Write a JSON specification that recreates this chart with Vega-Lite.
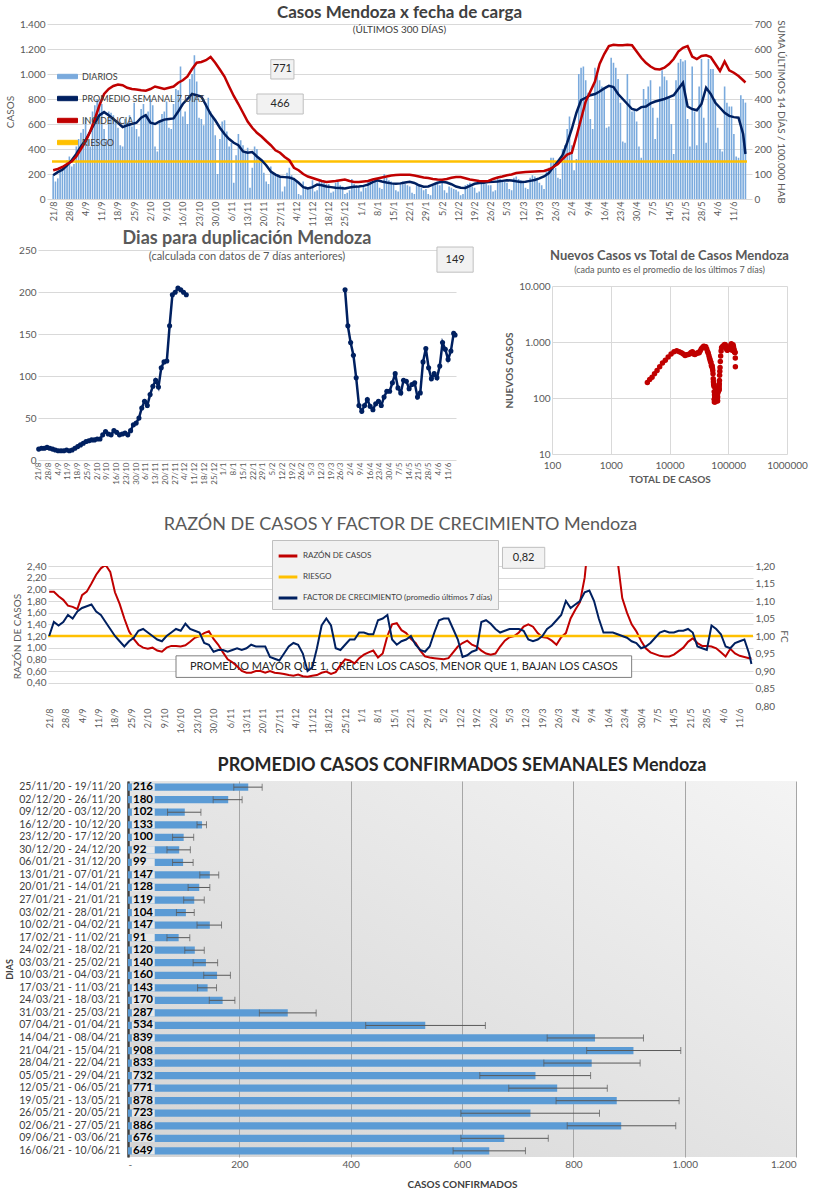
{
"$schema":"https://vega.github.io/schema/vega-lite/v6.json",
"background":"white",
"padding":{"left":4,"top":4,"right":2,"bottom":0},
"spacing":4,
"config":{
"locale":{"number":{"decimal":",","thousands":".","grouping":[3],"currency":["$",""]}},
"font":"Lato",
"axis":{"labelColor":"#595959","titleColor":"#595959","labelFont":"Lato","titleFont":"Lato","gridColor":"#d9d9d9","domain":false,"ticks":false,"labelFontSize":10,"titleFontWeight":"normal","titleFontSize":10,"labelOverlap":false},
"view":{"stroke":null},
"title":{"font":"Lato","color":"#595959","anchor":"middle"},
"legend":{"labelFont":"Lato","labelLimit":400}
},
"resolve":{"scale":{"color":"independent"},"legend":{"color":"independent"}},
"datasets":{
"daily":[
{"d":"2020-08-21","c":190},{"d":"2020-08-22","c":140},{"d":"2020-08-23","c":165},{"d":"2020-08-24","c":220},{"d":"2020-08-25","c":245},{"d":"2020-08-26","c":270},{"d":"2020-08-27","c":310},{"d":"2020-08-28","c":340},{"d":"2020-08-29","c":260},{"d":"2020-08-30","c":280},{"d":"2020-08-31","c":420},
{"d":"2020-09-01","c":480},{"d":"2020-09-02","c":530},{"d":"2020-09-03","c":560},{"d":"2020-09-04","c":650},{"d":"2020-09-05","c":480},{"d":"2020-09-06","c":420},{"d":"2020-09-07","c":700},{"d":"2020-09-08","c":750},{"d":"2020-09-09","c":800},{"d":"2020-09-10","c":780},{"d":"2020-09-11","c":760},{"d":"2020-09-12","c":560},{"d":"2020-09-13","c":480},{"d":"2020-09-14","c":700},{"d":"2020-09-15","c":690},{"d":"2020-09-16","c":670},{"d":"2020-09-17","c":620},{"d":"2020-09-18","c":570},{"d":"2020-09-19","c":430},{"d":"2020-09-20","c":420},{"d":"2020-09-21","c":640},{"d":"2020-09-22","c":610},{"d":"2020-09-23","c":670},{"d":"2020-09-24","c":580},{"d":"2020-09-25","c":770},{"d":"2020-09-26","c":560},{"d":"2020-09-27","c":500},{"d":"2020-09-28","c":720},{"d":"2020-09-29","c":760},{"d":"2020-09-30","c":660},
{"d":"2020-10-01","c":700},{"d":"2020-10-02","c":800},{"d":"2020-10-03","c":750},{"d":"2020-10-04","c":420},{"d":"2020-10-05","c":380},{"d":"2020-10-06","c":620},{"d":"2020-10-07","c":680},{"d":"2020-10-08","c":700},{"d":"2020-10-09","c":780},{"d":"2020-10-10","c":570},{"d":"2020-10-11","c":560},{"d":"2020-10-12","c":760},{"d":"2020-10-13","c":880},{"d":"2020-10-14","c":870},{"d":"2020-10-15","c":1060},{"d":"2020-10-16","c":660},{"d":"2020-10-17","c":700},{"d":"2020-10-18","c":600},{"d":"2020-10-19","c":960},{"d":"2020-10-20","c":1000},{"d":"2020-10-21","c":1150},{"d":"2020-10-22","c":940},{"d":"2020-10-23","c":650},{"d":"2020-10-24","c":640},{"d":"2020-10-25","c":590},{"d":"2020-10-26","c":770},{"d":"2020-10-27","c":810},{"d":"2020-10-28","c":700},{"d":"2020-10-29","c":650},{"d":"2020-10-30","c":510},{"d":"2020-10-31","c":200},
{"d":"2020-11-01","c":480},{"d":"2020-11-02","c":620},{"d":"2020-11-03","c":630},{"d":"2020-11-04","c":540},{"d":"2020-11-05","c":420},{"d":"2020-11-06","c":450},{"d":"2020-11-07","c":130},{"d":"2020-11-08","c":350},{"d":"2020-11-09","c":520},{"d":"2020-11-10","c":470},{"d":"2020-11-11","c":430},{"d":"2020-11-12","c":380},{"d":"2020-11-13","c":410},{"d":"2020-11-14","c":90},{"d":"2020-11-15","c":250},{"d":"2020-11-16","c":420},{"d":"2020-11-17","c":400},{"d":"2020-11-18","c":320},{"d":"2020-11-19","c":300},{"d":"2020-11-20","c":210},{"d":"2020-11-21","c":140},{"d":"2020-11-22","c":120},{"d":"2020-11-23","c":260},{"d":"2020-11-24","c":200},{"d":"2020-11-25","c":190},{"d":"2020-11-26","c":200},{"d":"2020-11-27","c":170},{"d":"2020-11-28","c":60},{"d":"2020-11-29","c":100},{"d":"2020-11-30","c":210},
{"d":"2020-12-01","c":250},{"d":"2020-12-02","c":190},{"d":"2020-12-03","c":170},{"d":"2020-12-04","c":150},{"d":"2020-12-05","c":40},{"d":"2020-12-06","c":30},{"d":"2020-12-07","c":140},{"d":"2020-12-08","c":100},{"d":"2020-12-09","c":90},{"d":"2020-12-10","c":80},{"d":"2020-12-11","c":150},{"d":"2020-12-12","c":60},{"d":"2020-12-13","c":70},{"d":"2020-12-14","c":160},{"d":"2020-12-15","c":140},{"d":"2020-12-16","c":130},{"d":"2020-12-17","c":120},{"d":"2020-12-18","c":120},{"d":"2020-12-19","c":50},{"d":"2020-12-20","c":60},{"d":"2020-12-21","c":130},{"d":"2020-12-22","c":140},{"d":"2020-12-23","c":110},{"d":"2020-12-24","c":100},{"d":"2020-12-25","c":40},{"d":"2020-12-26","c":50},{"d":"2020-12-27","c":70},{"d":"2020-12-28","c":160},{"d":"2020-12-29","c":120},{"d":"2020-12-30","c":110},{"d":"2020-12-31","c":100},
{"d":"2021-01-01","c":60},{"d":"2021-01-02","c":110},{"d":"2021-01-03","c":90},{"d":"2021-01-04","c":150},{"d":"2021-01-05","c":160},{"d":"2021-01-06","c":140},{"d":"2021-01-07","c":150},{"d":"2021-01-08","c":160},{"d":"2021-01-09","c":90},{"d":"2021-01-10","c":80},{"d":"2021-01-11","c":200},{"d":"2021-01-12","c":170},{"d":"2021-01-13","c":150},{"d":"2021-01-14","c":140},{"d":"2021-01-15","c":120},{"d":"2021-01-16","c":70},{"d":"2021-01-17","c":60},{"d":"2021-01-18","c":130},{"d":"2021-01-19","c":140},{"d":"2021-01-20","c":120},{"d":"2021-01-21","c":110},{"d":"2021-01-22","c":100},{"d":"2021-01-23","c":50},{"d":"2021-01-24","c":40},{"d":"2021-01-25","c":130},{"d":"2021-01-26","c":110},{"d":"2021-01-27","c":90},{"d":"2021-01-28","c":70},{"d":"2021-01-29","c":80},{"d":"2021-01-30","c":40},{"d":"2021-01-31","c":30},
{"d":"2021-02-01","c":110},{"d":"2021-02-02","c":130},{"d":"2021-02-03","c":120},{"d":"2021-02-04","c":110},{"d":"2021-02-05","c":130},{"d":"2021-02-06","c":70},{"d":"2021-02-07","c":50},{"d":"2021-02-08","c":100},{"d":"2021-02-09","c":90},{"d":"2021-02-10","c":80},{"d":"2021-02-11","c":75},{"d":"2021-02-12","c":60},{"d":"2021-02-13","c":30},{"d":"2021-02-14","c":40},{"d":"2021-02-15","c":110},{"d":"2021-02-16","c":120},{"d":"2021-02-17","c":130},{"d":"2021-02-18","c":100},{"d":"2021-02-19","c":90},{"d":"2021-02-20","c":50},{"d":"2021-02-21","c":60},{"d":"2021-02-22","c":140},{"d":"2021-02-23","c":130},{"d":"2021-02-24","c":120},{"d":"2021-02-25","c":110},{"d":"2021-02-26","c":110},{"d":"2021-02-27","c":60},{"d":"2021-02-28","c":70},
{"d":"2021-03-01","c":170},{"d":"2021-03-02","c":160},{"d":"2021-03-03","c":150},{"d":"2021-03-04","c":140},{"d":"2021-03-05","c":130},{"d":"2021-03-06","c":80},{"d":"2021-03-07","c":70},{"d":"2021-03-08","c":170},{"d":"2021-03-09","c":180},{"d":"2021-03-10","c":160},{"d":"2021-03-11","c":150},{"d":"2021-03-12","c":140},{"d":"2021-03-13","c":90},{"d":"2021-03-14","c":80},{"d":"2021-03-15","c":170},{"d":"2021-03-16","c":190},{"d":"2021-03-17","c":180},{"d":"2021-03-18","c":160},{"d":"2021-03-19","c":130},{"d":"2021-03-20","c":110},{"d":"2021-03-21","c":80},{"d":"2021-03-22","c":220},{"d":"2021-03-23","c":250},{"d":"2021-03-24","c":330},{"d":"2021-03-25","c":330},{"d":"2021-03-26","c":250},{"d":"2021-03-27","c":170},{"d":"2021-03-28","c":160},{"d":"2021-03-29","c":400},{"d":"2021-03-30","c":430},{"d":"2021-03-31","c":560},
{"d":"2021-04-01","c":660},{"d":"2021-04-02","c":430},{"d":"2021-04-03","c":230},{"d":"2021-04-04","c":320},{"d":"2021-04-05","c":1000},{"d":"2021-04-06","c":1050},{"d":"2021-04-07","c":1060},{"d":"2021-04-08","c":950},{"d":"2021-04-09","c":850},{"d":"2021-04-10","c":640},{"d":"2021-04-11","c":560},{"d":"2021-04-12","c":1050},{"d":"2021-04-13","c":1000},{"d":"2021-04-14","c":950},{"d":"2021-04-15","c":900},{"d":"2021-04-16","c":880},{"d":"2021-04-17","c":570},{"d":"2021-04-18","c":580},{"d":"2021-04-19","c":1130},{"d":"2021-04-20","c":1090},{"d":"2021-04-21","c":1050},{"d":"2021-04-22","c":960},{"d":"2021-04-23","c":770},{"d":"2021-04-24","c":460},{"d":"2021-04-25","c":450},{"d":"2021-04-26","c":1000},{"d":"2021-04-27","c":800},{"d":"2021-04-28","c":700},{"d":"2021-04-29","c":720},{"d":"2021-04-30","c":620},
{"d":"2021-05-01","c":420},{"d":"2021-05-02","c":330},{"d":"2021-05-03","c":880},{"d":"2021-05-04","c":800},{"d":"2021-05-05","c":900},{"d":"2021-05-06","c":950},{"d":"2021-05-07","c":730},{"d":"2021-05-08","c":480},{"d":"2021-05-09","c":650},{"d":"2021-05-10","c":900},{"d":"2021-05-11","c":1030},{"d":"2021-05-12","c":980},{"d":"2021-05-13","c":950},{"d":"2021-05-14","c":810},{"d":"2021-05-15","c":600},{"d":"2021-05-16","c":360},{"d":"2021-05-17","c":950},{"d":"2021-05-18","c":1090},{"d":"2021-05-19","c":1120},{"d":"2021-05-20","c":1100},{"d":"2021-05-21","c":1110},{"d":"2021-05-22","c":640},{"d":"2021-05-23","c":420},{"d":"2021-05-24","c":1060},{"d":"2021-05-25","c":700},{"d":"2021-05-26","c":430},{"d":"2021-05-27","c":900},{"d":"2021-05-28","c":1120},{"d":"2021-05-29","c":650},{"d":"2021-05-30","c":450},{"d":"2021-05-31","c":1120},
{"d":"2021-06-01","c":1040},{"d":"2021-06-02","c":1040},{"d":"2021-06-03","c":800},{"d":"2021-06-04","c":570},{"d":"2021-06-05","c":400},{"d":"2021-06-06","c":380},{"d":"2021-06-07","c":900},{"d":"2021-06-08","c":770},{"d":"2021-06-09","c":740},{"d":"2021-06-10","c":740},{"d":"2021-06-11","c":520},{"d":"2021-06-12","c":340},{"d":"2021-06-13","c":330},{"d":"2021-06-14","c":830},{"d":"2021-06-15","c":800},{"d":"2021-06-16","c":771}
],
"ser":[
{"d":"2020-08-21","p":190,"i":115,"u":13,"r":1.96,"f":1.0,"t":4200},
{"d":"2020-08-23","p":215,"i":120,"u":14,"r":1.96,"f":1.04,"t":4600},
{"d":"2020-08-25","p":235,"i":128,"u":14,"r":1.88,"f":1.03,"t":5050},
{"d":"2020-08-27","p":270,"i":140,"u":15,"r":1.82,"f":1.04,"t":5560},
{"d":"2020-08-29","p":310,"i":150,"u":14,"r":1.72,"f":1.06,"t":6140},
{"d":"2020-08-31","p":360,"i":170,"u":13,"r":1.7,"f":1.05,"t":6810},
{"d":"2020-09-02","p":420,"i":200,"u":12,"r":1.66,"f":1.07,"t":7590},
{"d":"2020-09-04","p":470,"i":230,"u":11,"r":1.9,"f":1.08,"t":8480},
{"d":"2020-09-06","p":540,"i":270,"u":11,"r":1.96,"f":1.085,"t":9490},
{"d":"2020-09-08","p":610,"i":320,"u":11,"r":2.1,"f":1.09,"t":10640},
{"d":"2020-09-10","p":670,"i":375,"u":12,"r":2.25,"f":1.07,"t":11920},
{"d":"2020-09-12","p":695,"i":420,"u":11,"r":2.36,"f":1.06,"t":13285},
{"d":"2020-09-14","p":670,"i":440,"u":12,"r":2.42,"f":1.04,"t":14650},
{"d":"2020-09-16","p":640,"i":452,"u":14,"r":2.3,"f":1.02,"t":15960},
{"d":"2020-09-18","p":610,"i":458,"u":16,"r":1.95,"f":1.0,"t":17210},
{"d":"2020-09-20","p":575,"i":455,"u":18,"r":1.75,"f":0.985,"t":18395},
{"d":"2020-09-22","p":590,"i":445,"u":20,"r":1.5,"f":0.97,"t":19560},
{"d":"2020-09-24","p":600,"i":440,"u":22,"r":1.28,"f":0.985,"t":20750},
{"d":"2020-09-26","p":610,"i":438,"u":23,"r":1.15,"f":0.995,"t":21960},
{"d":"2020-09-28","p":650,"i":435,"u":24,"r":1.05,"f":1.015,"t":23220},
{"d":"2020-09-30","p":670,"i":433,"u":24,"r":1.0,"f":1.02,"t":24540},
{"d":"2020-10-02","p":610,"i":440,"u":25,"r":0.98,"f":1.01,"t":25820},
{"d":"2020-10-04","p":600,"i":450,"u":25,"r":1.0,"f":1.0,"t":27030},
{"d":"2020-10-06","p":620,"i":445,"u":30,"r":0.95,"f":0.99,"t":28250},
{"d":"2020-10-08","p":635,"i":440,"u":34,"r":0.93,"f":0.985,"t":29505},
{"d":"2020-10-10","p":640,"i":445,"u":31,"r":1.0,"f":1.0,"t":30780},
{"d":"2020-10-12","p":645,"i":450,"u":30,"r":1.03,"f":1.01,"t":32065},
{"d":"2020-10-14","p":700,"i":465,"u":35,"r":1.03,"f":1.02,"t":33410},
{"d":"2020-10-16","p":760,"i":475,"u":33,"r":1.02,"f":1.015,"t":34870},
{"d":"2020-10-18","p":800,"i":490,"u":30,"r":1.04,"f":1.035,"t":36430},
{"d":"2020-10-20","p":840,"i":520,"u":31,"r":1.1,"f":1.02,"t":38070},
{"d":"2020-10-22","p":830,"i":545,"u":32,"r":1.17,"f":1.015,"t":39740},
{"d":"2020-10-24","p":820,"i":548,"u":30,"r":1.2,"f":1.01,"t":41390},
{"d":"2020-10-26","p":750,"i":555,"u":35,"r":1.25,"f":0.98,"t":42960},
{"d":"2020-10-28","p":680,"i":568,"u":42,"r":1.28,"f":0.975,"t":44390},
{"d":"2020-10-30","p":630,"i":545,"u":44,"r":1.15,"f":0.955,"t":45700},
{"d":"2020-11-01","p":570,"i":518,"u":50,"r":1.05,"f":0.96,"t":46900},
{"d":"2020-11-03","p":520,"i":490,"u":62,"r":0.92,"f":0.96,"t":47990},
{"d":"2020-11-05","p":480,"i":450,"u":70,"r":0.8,"f":0.955,"t":48990},
{"d":"2020-11-07","p":450,"i":412,"u":65,"r":0.75,"f":0.96,"t":49920},
{"d":"2020-11-09","p":430,"i":380,"u":78,"r":0.68,"f":0.965,"t":50800},
{"d":"2020-11-11","p":380,"i":345,"u":88,"r":0.6,"f":0.96,"t":51610},
{"d":"2020-11-13","p":370,"i":310,"u":95,"r":0.57,"f":0.965,"t":52360},
{"d":"2020-11-15","p":375,"i":285,"u":87,"r":0.57,"f":0.975,"t":53105},
{"d":"2020-11-17","p":340,"i":265,"u":110,"r":0.6,"f":0.97,"t":53820},
{"d":"2020-11-19","p":310,"i":250,"u":117,"r":0.6,"f":0.97,"t":54470},
{"d":"2020-11-21","p":270,"i":232,"u":118,"r":0.57,"f":0.97,"t":55050},
{"d":"2020-11-23","p":220,"i":215,"u":160,"r":0.6,"f":0.94,"t":55540},
{"d":"2020-11-25","p":195,"i":195,"u":197,"r":0.57,"f":0.935,"t":55955},
{"d":"2020-11-27","p":178,"i":185,"u":200,"r":0.56,"f":0.93,"t":56330},
{"d":"2020-11-29","p":175,"i":168,"u":205,"r":0.55,"f":0.95,"t":56680},
{"d":"2020-12-01","p":172,"i":155,"u":203,"r":0.53,"f":0.97,"t":57030},
{"d":"2020-12-03","p":160,"i":125,"u":200,"r":0.52,"f":0.98,"t":57360},
{"d":"2020-12-05","p":130,"i":115,"u":197,"r":0.54,"f":0.975,"t":57650},
{"d":"2020-12-07","p":95,"i":100,"u":null,"r":0.51,"f":0.95,"t":57875},
{"d":"2020-12-09","p":85,"i":90,"u":null,"r":0.5,"f":0.9,"t":58055},
{"d":"2020-12-11","p":95,"i":84,"u":null,"r":0.52,"f":0.91,"t":58235},
{"d":"2020-12-13","p":115,"i":78,"u":null,"r":0.53,"f":0.965,"t":58445},
{"d":"2020-12-15","p":110,"i":72,"u":null,"r":0.57,"f":1.03,"t":58670},
{"d":"2020-12-17","p":100,"i":68,"u":null,"r":0.59,"f":1.05,"t":58880},
{"d":"2020-12-19","p":95,"i":70,"u":null,"r":0.55,"f":1.03,"t":59075},
{"d":"2020-12-21","p":90,"i":72,"u":null,"r":0.58,"f":0.965,"t":59260},
{"d":"2020-12-23","p":88,"i":75,"u":null,"r":0.7,"f":0.96,"t":59440},
{"d":"2020-12-25","p":85,"i":78,"u":null,"r":0.8,"f":0.975,"t":59610},
{"d":"2020-12-27","p":92,"i":72,"u":null,"r":0.78,"f":0.99,"t":59790},
{"d":"2020-12-29","p":98,"i":68,"u":null,"r":0.73,"f":0.99,"t":59980},
{"d":"2020-12-31","p":100,"i":68,"u":null,"r":0.82,"f":1.01,"t":60180},
{"d":"2021-01-02","p":105,"i":70,"u":null,"r":0.88,"f":1.01,"t":60385},
{"d":"2021-01-04","p":115,"i":72,"u":null,"r":0.92,"f":1.005,"t":60605},
{"d":"2021-01-06","p":135,"i":78,"u":null,"r":0.95,"f":1.005,"t":60855},
{"d":"2021-01-08","p":150,"i":82,"u":null,"r":0.83,"f":1.045,"t":61140},
{"d":"2021-01-10","p":140,"i":86,"u":null,"r":0.9,"f":1.05,"t":61430},
{"d":"2021-01-12","p":132,"i":90,"u":null,"r":1.2,"f":1.06,"t":61700},
{"d":"2021-01-14","p":125,"i":94,"u":null,"r":1.4,"f":0.99,"t":61960},
{"d":"2021-01-16","p":122,"i":96,"u":null,"r":1.42,"f":0.975,"t":62205},
{"d":"2021-01-18","p":125,"i":97,"u":null,"r":1.3,"f":0.985,"t":62450},
{"d":"2021-01-20","p":132,"i":97,"u":null,"r":1.25,"f":0.99,"t":62710},
{"d":"2021-01-22","p":137,"i":97,"u":null,"r":1.15,"f":1.0,"t":62980},
{"d":"2021-01-24","p":128,"i":94,"u":null,"r":1.08,"f":0.975,"t":63245},
{"d":"2021-01-26","p":110,"i":90,"u":null,"r":0.95,"f":0.96,"t":63480},
{"d":"2021-01-28","p":98,"i":86,"u":null,"r":0.85,"f":0.955,"t":63690},
{"d":"2021-01-30","p":100,"i":84,"u":null,"r":0.83,"f":0.97,"t":63890},
{"d":"2021-02-01","p":115,"i":80,"u":null,"r":0.82,"f":1.01,"t":64100},
{"d":"2021-02-03","p":130,"i":78,"u":null,"r":0.81,"f":1.045,"t":64345},
{"d":"2021-02-05","p":137,"i":77,"u":null,"r":0.8,"f":1.05,"t":64610},
{"d":"2021-02-07","p":132,"i":80,"u":null,"r":0.82,"f":1.05,"t":64880},
{"d":"2021-02-09","p":118,"i":85,"u":null,"r":0.92,"f":1.02,"t":65130},
{"d":"2021-02-11","p":100,"i":88,"u":null,"r":1.02,"f":0.99,"t":65350},
{"d":"2021-02-13","p":90,"i":88,"u":null,"r":1.08,"f":0.94,"t":65540},
{"d":"2021-02-15","p":88,"i":83,"u":null,"r":1.12,"f":0.945,"t":65715},
{"d":"2021-02-17","p":105,"i":78,"u":null,"r":1.05,"f":0.955,"t":65910},
{"d":"2021-02-19","p":122,"i":75,"u":null,"r":1.02,"f":0.96,"t":66135},
{"d":"2021-02-21","p":128,"i":72,"u":null,"r":0.95,"f":1.04,"t":66385},
{"d":"2021-02-23","p":130,"i":71,"u":null,"r":0.9,"f":1.045,"t":66645},
{"d":"2021-02-25","p":135,"i":72,"u":null,"r":0.88,"f":1.035,"t":66910},
{"d":"2021-02-27","p":137,"i":80,"u":null,"r":0.9,"f":1.02,"t":67180},
{"d":"2021-03-01","p":140,"i":86,"u":null,"r":1.02,"f":1.01,"t":67460},
{"d":"2021-03-03","p":145,"i":90,"u":null,"r":1.12,"f":1.015,"t":67745},
{"d":"2021-03-05","p":150,"i":95,"u":null,"r":1.18,"f":1.02,"t":68040},
{"d":"2021-03-07","p":148,"i":98,"u":null,"r":1.2,"f":1.02,"t":68340},
{"d":"2021-03-09","p":142,"i":104,"u":null,"r":1.26,"f":1.02,"t":68630},
{"d":"2021-03-11","p":137,"i":106,"u":null,"r":1.36,"f":1.015,"t":68910},
{"d":"2021-03-13","p":138,"i":108,"u":null,"r":1.4,"f":0.99,"t":69185},
{"d":"2021-03-15","p":145,"i":109,"u":null,"r":1.36,"f":0.985,"t":69470},
{"d":"2021-03-17","p":152,"i":110,"u":null,"r":1.25,"f":0.99,"t":69765},
{"d":"2021-03-19","p":165,"i":111,"u":null,"r":1.18,"f":1.0,"t":70080},
{"d":"2021-03-21","p":180,"i":112,"u":null,"r":1.17,"f":1.02,"t":70425},
{"d":"2021-03-23","p":205,"i":118,"u":null,"r":1.12,"f":1.03,"t":70810},
{"d":"2021-03-25","p":255,"i":128,"u":null,"r":1.05,"f":1.045,"t":71270},
{"d":"2021-03-27","p":300,"i":140,"u":null,"r":1.18,"f":1.06,"t":71825},
{"d":"2021-03-29","p":350,"i":160,"u":203,"r":1.25,"f":1.1,"t":72475},
{"d":"2021-03-31","p":450,"i":178,"u":160,"r":1.5,"f":1.08,"t":73275},
{"d":"2021-04-02","p":560,"i":185,"u":140,"r":1.65,"f":1.09,"t":74285},
{"d":"2021-04-04","p":690,"i":250,"u":125,"r":1.78,"f":1.1,"t":75535},
{"d":"2021-04-06","p":790,"i":320,"u":98,"r":2.2,"f":1.125,"t":77015},
{"d":"2021-04-08","p":810,"i":390,"u":65,"r":3.0,"f":1.13,"t":78615},
{"d":"2021-04-10","p":830,"i":430,"u":58,"r":3.5,"f":1.1,"t":80255},
{"d":"2021-04-12","p":840,"i":470,"u":65,"r":3.5,"f":1.05,"t":81925},
{"d":"2021-04-14","p":860,"i":540,"u":72,"r":3.5,"f":1.01,"t":83625},
{"d":"2021-04-16","p":885,"i":580,"u":64,"r":3.5,"f":1.01,"t":85370},
{"d":"2021-04-18","p":905,"i":612,"u":60,"r":3.2,"f":1.01,"t":87160},
{"d":"2021-04-20","p":895,"i":617,"u":67,"r":2.5,"f":1.005,"t":88960},
{"d":"2021-04-22","p":840,"i":615,"u":70,"r":1.85,"f":1.0,"t":90695},
{"d":"2021-04-24","p":800,"i":615,"u":65,"r":1.6,"f":0.995,"t":92335},
{"d":"2021-04-26","p":760,"i":617,"u":75,"r":1.4,"f":0.985,"t":93895},
{"d":"2021-04-28","p":720,"i":615,"u":82,"r":1.28,"f":0.98,"t":95375},
{"d":"2021-04-30","p":710,"i":590,"u":82,"r":1.12,"f":0.965,"t":96805},
{"d":"2021-05-02","p":735,"i":565,"u":92,"r":0.99,"f":0.97,"t":98250},
{"d":"2021-05-04","p":740,"i":545,"u":103,"r":0.92,"f":0.98,"t":99725},
{"d":"2021-05-06","p":765,"i":530,"u":86,"r":0.89,"f":0.995,"t":101230},
{"d":"2021-05-08","p":780,"i":520,"u":80,"r":0.86,"f":1.01,"t":102775},
{"d":"2021-05-10","p":790,"i":518,"u":95,"r":0.85,"f":1.015,"t":104345},
{"d":"2021-05-12","p":800,"i":525,"u":94,"r":0.85,"f":1.01,"t":105935},
{"d":"2021-05-14","p":815,"i":540,"u":85,"r":0.88,"f":1.01,"t":107550},
{"d":"2021-05-16","p":830,"i":560,"u":90,"r":0.94,"f":1.015,"t":109195},
{"d":"2021-05-18","p":880,"i":590,"u":92,"r":1.0,"f":1.015,"t":110905},
{"d":"2021-05-20","p":930,"i":605,"u":75,"r":1.1,"f":1.02,"t":112715},
{"d":"2021-05-22","p":740,"i":612,"u":80,"r":1.16,"f":1.01,"t":114385},
{"d":"2021-05-24","p":720,"i":570,"u":117,"r":1.08,"f":0.97,"t":115845},
{"d":"2021-05-26","p":710,"i":560,"u":133,"r":1.03,"f":0.965,"t":117275},
{"d":"2021-05-28","p":760,"i":572,"u":110,"r":1.03,"f":0.96,"t":118745},
{"d":"2021-05-30","p":890,"i":575,"u":97,"r":1.02,"f":1.03,"t":120395},
{"d":"2021-06-01","p":840,"i":568,"u":103,"r":0.99,"f":1.02,"t":122125},
{"d":"2021-06-03","p":770,"i":540,"u":98,"r":0.92,"f":1.005,"t":123735},
{"d":"2021-06-05","p":730,"i":512,"u":112,"r":0.85,"f":0.97,"t":125235},
{"d":"2021-06-07","p":690,"i":550,"u":140,"r":0.98,"f":0.965,"t":126655},
{"d":"2021-06-09","p":665,"i":515,"u":132,"r":0.9,"f":0.98,"t":128010},
{"d":"2021-06-11","p":655,"i":505,"u":120,"r":0.86,"f":0.985,"t":129330},
{"d":"2021-06-13","p":650,"i":492,"u":130,"r":0.84,"f":0.99,"t":130635},
{"d":"2021-06-15","p":520,"i":475,"u":151,"r":0.82,"f":0.95,"t":131805},
{"d":"2021-06-16","p":360,"i":466,"u":149,"r":0.82,"f":0.92,"t":132245}
],
"sem":[
{"w":"25/11/20 - 19/11/20","v":216,"lo":190,"hi":241},
{"w":"02/12/20 - 26/11/20","v":180,"lo":153,"hi":205},
{"w":"09/12/20 - 03/12/20","v":102,"lo":71,"hi":131},
{"w":"16/12/20 - 10/12/20","v":133,"lo":124,"hi":141},
{"w":"23/12/20 - 17/12/20","v":100,"lo":80,"hi":118},
{"w":"30/12/20 - 24/12/20","v":92,"lo":70,"hi":112},
{"w":"06/01/21 - 31/12/20","v":99,"lo":80,"hi":117},
{"w":"13/01/21 - 07/01/21","v":147,"lo":129,"hi":163},
{"w":"20/01/21 - 14/01/21","v":128,"lo":108,"hi":147},
{"w":"27/01/21 - 21/01/21","v":119,"lo":100,"hi":137},
{"w":"03/02/21 - 28/01/21","v":104,"lo":87,"hi":119},
{"w":"10/02/21 - 04/02/21","v":147,"lo":124,"hi":168},
{"w":"17/02/21 - 11/02/21","v":91,"lo":70,"hi":111},
{"w":"24/02/21 - 18/02/21","v":120,"lo":102,"hi":137},
{"w":"03/03/21 - 25/02/21","v":140,"lo":117,"hi":161},
{"w":"10/03/21 - 04/03/21","v":160,"lo":136,"hi":184},
{"w":"17/03/21 - 11/03/21","v":143,"lo":125,"hi":159},
{"w":"24/03/21 - 18/03/21","v":170,"lo":146,"hi":192},
{"w":"31/03/21 - 25/03/21","v":287,"lo":236,"hi":338},
{"w":"07/04/21 - 01/04/21","v":534,"lo":427,"hi":642},
{"w":"14/04/21 - 08/04/21","v":839,"lo":753,"hi":926},
{"w":"21/04/21 - 15/04/21","v":908,"lo":824,"hi":993},
{"w":"28/04/21 - 22/04/21","v":833,"lo":747,"hi":920},
{"w":"05/05/21 - 29/04/21","v":732,"lo":632,"hi":831},
{"w":"12/05/21 - 06/05/21","v":771,"lo":684,"hi":861},
{"w":"19/05/21 - 13/05/21","v":878,"lo":769,"hi":990},
{"w":"26/05/21 - 20/05/21","v":723,"lo":598,"hi":847},
{"w":"02/06/21 - 27/05/21","v":886,"lo":789,"hi":984},
{"w":"09/06/21 - 03/06/21","v":676,"lo":598,"hi":755},
{"w":"16/06/21 - 10/06/21","v":649,"lo":584,"hi":714}
]
},
"vconcat":[
{"spacing":0,"resolve":{"scale":{"color":"independent"},"legend":{"color":"independent"}},"hconcat":[
{"width":1,"height":1,"data":{"values":[]},"mark":"point","encoding":{}},
{
"title":{"text":"Casos Mendoza x fecha de carga","subtitle":"(ÚLTIMOS 300 DÍAS)","fontSize":17,"fontWeight":"bold","subtitleFontSize":10,"subtitleColor":"#404040","color":"#404040","offset":-18},
"width":705,"height":175,
"layer":[
{"layer":[
{"data":{"name":"daily"},"mark":{"type":"bar","width":1.6},
"encoding":{
"x":{"field":"d","type":"temporal","scale":{"type":"utc","nice":false,"domain":[{"year":2020,"month":8,"date":20,"hours":12,"utc":true},{"year":2021,"month":6,"date":16,"hours":16,"utc":true}]},"axis":{"title":null,"labelExpr":"utcFormat(datum.value, '%-d/%-m')","labelAngle":-90,"labelFontSize":9,"labelOverlap":false,"grid":false,"tickCount":60,"values":[1597968000000,1598572800000,1599177600000,1599782400000,1600387200000,1600992000000,1601596800000,1602201600000,1602806400000,1603411200000,1604016000000,1604620800000,1605225600000,1605830400000,1606435200000,1607040000000,1607644800000,1608249600000,1608854400000,1609459200000,1610064000000,1610668800000,1611273600000,1611878400000,1612483200000,1613088000000,1613692800000,1614297600000,1614902400000,1615507200000,1616112000000,1616716800000,1617321600000,1617926400000,1618531200000,1619136000000,1619740800000,1620345600000,1620950400000,1621555200000,1622160000000,1622764800000,1623369600000]}},
"y":{"field":"c","type":"quantitative","title":"CASOS","scale":{"domain":[0,1400]},"axis":{"values":[0,200,400,600,800,1000,1200,1400],"tickCount":40,"grid":true,"labelOverlap":false}},
"color":{"datum":"DIARIOS","type":"nominal","scale":{"domain":["DIARIOS","PROMEDIO SEMANAL 7 DÍAS","INCIDENCIA","RIESGO"],"range":["#7aaadd","#002060","#c00000","#ffc000"]},"legend":{"title":null,"orient":"none","legendX":10,"legendY":42,"symbolType":"M-1,-0.22L1,-0.22L1,0.22L-1,0.22Z","symbolSize":400,"symbolStrokeWidth":1,"labelFontSize":9,"labelColor":"#404040","rowPadding":6}}}},
{"data":{"values":[{}]},"mark":{"type":"rule","strokeWidth":2.5},"encoding":{"x":{"datum":{"year":2020,"month":8,"date":20,"hours":12,"utc":true},"type":"temporal","axis":{"labelOverlap":false}},"x2":{"datum":{"year":2021,"month":6,"date":16,"hours":16,"utc":true}},"y":{"datum":300,"type":"quantitative","title":"CASOS","axis":{"labelOverlap":false}},"color":{"datum":"RIESGO","type":"nominal"}}},
{"data":{"name":"ser"},"mark":{"type":"line","strokeWidth":2.5},
"encoding":{"x":{"field":"d","type":"temporal","axis":{"labelOverlap":false}},"y":{"field":"p","type":"quantitative","title":"CASOS","axis":{"labelOverlap":false}},"color":{"datum":"PROMEDIO SEMANAL 7 DÍAS","type":"nominal"}}},
{"data":{"values":[{}]},"mark":{"type":"rect","fill":"#f2f2f2","stroke":"#bfbfbf"},"encoding":{"x":{"datum":{"year":2020,"month":11,"date":23,"utc":true},"type":"temporal","axis":{"labelOverlap":false}},"x2":{"datum":{"year":2020,"month":12,"date":3,"utc":true}},"y":{"datum":960,"type":"quantitative","title":"CASOS","axis":{"labelOverlap":false}},"y2":{"datum":1115}}},
{"data":{"values":[{}]},"mark":{"type":"text","fontSize":11,"color":"#262626"},"encoding":{"x":{"datum":{"year":2020,"month":11,"date":28,"utc":true},"type":"temporal","axis":{"labelOverlap":false}},"y":{"datum":1037,"type":"quantitative","title":"CASOS","axis":{"labelOverlap":false}},"text":{"datum":"771"}}},
{"data":{"values":[{}]},"mark":{"type":"rect","fill":"#f2f2f2","stroke":"#bfbfbf"},"encoding":{"x":{"datum":{"year":2020,"month":11,"date":17,"utc":true},"type":"temporal","axis":{"labelOverlap":false}},"x2":{"datum":{"year":2020,"month":12,"date":7,"utc":true}},"y":{"datum":680,"type":"quantitative","title":"CASOS","axis":{"labelOverlap":false}},"y2":{"datum":840}}},
{"data":{"values":[{}]},"mark":{"type":"text","fontSize":11,"color":"#262626"},"encoding":{"x":{"datum":{"year":2020,"month":11,"date":27,"utc":true},"type":"temporal","axis":{"labelOverlap":false}},"y":{"datum":760,"type":"quantitative","title":"CASOS","axis":{"labelOverlap":false}},"text":{"datum":"466"}}}
]},
{"data":{"name":"ser"},"mark":{"type":"line","strokeWidth":2.5},
"encoding":{"x":{"field":"d","type":"temporal","axis":{"labelOverlap":false}},"y":{"field":"i","type":"quantitative","title":"SUMA  ÚLTIMOS 14 DÍAS / 100.000 HAB","scale":{"domain":[0,700]},"axis":{"orient":"right","values":[0,100,200,300,400,500,600,700],"tickCount":40,"grid":false,"labelOverlap":false}},"color":{"datum":"INCIDENCIA","type":"nominal"}}}
],
"resolve":{"scale":{"y":"independent"}}
}
]},
{"spacing":0,"hconcat":[
{"width":14,"height":1,"data":{"values":[]},"mark":"point","encoding":{}},
{"spacing":30,"hconcat":[
{
"title":{"text":"Dias para duplicación Mendoza","subtitle":"(calculada con datos de 7 días anteriores)","fontSize":18,"fontWeight":"bold","subtitleFontSize":11,"subtitleColor":"#595959","offset":-20},
"width":418,"height":218,
"layer":[
{"data":{"name":"ser"},"mark":{"type":"line","color":"#002060","strokeWidth":2.5,"invalid":"break-paths-show-domains","point":{"filled":true,"size":26,"color":"#002060"}},
"encoding":{
"x":{"field":"d","type":"temporal","scale":{"type":"utc","nice":false,"domain":[{"year":2020,"month":8,"date":20,"hours":12,"utc":true},{"year":2021,"month":6,"date":16,"hours":16,"utc":true}]},"axis":{"title":null,"format":"%-d/%-m","labelAngle":-90,"labelFontSize":8,"labelOverlap":false,"grid":false,"tickCount":60,"values":[1597968000000,1598572800000,1599177600000,1599782400000,1600387200000,1600992000000,1601596800000,1602201600000,1602806400000,1603411200000,1604016000000,1604620800000,1605225600000,1605830400000,1606435200000,1607040000000,1607644800000,1608249600000,1608854400000,1609459200000,1610064000000,1610668800000,1611273600000,1611878400000,1612483200000,1613088000000,1613692800000,1614297600000,1614902400000,1615507200000,1616112000000,1616716800000,1617321600000,1617926400000,1618531200000,1619136000000,1619740800000,1620345600000,1620950400000,1621555200000,1622160000000,1622764800000,1623369600000]}},
"y":{"field":"u","type":"quantitative","title":null,"scale":{"domain":[0,250]},"axis":{"values":[0,50,100,150,200,250],"tickCount":40,"grid":true,"labelOverlap":false}}}},
{"data":{"values":[{}]},"mark":{"type":"rect","fill":"#f2f2f2","stroke":"#bfbfbf"},"encoding":{"x":{"datum":{"year":2021,"month":6,"date":3,"utc":true},"type":"temporal","axis":{"title":null,"format":"%-d/%-m","labelAngle":-90,"labelFontSize":8,"labelOverlap":false,"grid":false}},"x2":{"datum":{"year":2021,"month":6,"date":29,"utc":true}},"y":{"datum":224,"type":"quantitative","title":null,"axis":{"labelOverlap":false}},"y2":{"datum":254}}},
{"data":{"values":[{}]},"mark":{"type":"text","fontSize":11,"color":"#262626"},"encoding":{"x":{"datum":{"year":2021,"month":6,"date":16,"utc":true},"type":"temporal","axis":{"title":null,"format":"%-d/%-m","labelAngle":-90,"labelFontSize":8,"labelOverlap":false,"grid":false}},"y":{"datum":239,"type":"quantitative","title":null,"axis":{"labelOverlap":false}},"text":{"datum":"149"}}}
]
},
{"spacing":4,"vconcat":[
{"width":1,"height":4,"data":{"values":[]},"mark":"point","encoding":{}},
{
"title":{"text":"Nuevos Casos vs Total de Casos Mendoza","subtitle":"(cada punto es el promedio de los últimos 7 días)","fontSize":13,"fontWeight":"bold","subtitleFontSize":9,"subtitleColor":"#595959","offset":6},
"width":235,"height":168,
"data":{"name":"ser"},
"mark":{"type":"circle","color":"#c00000","size":30,"opacity":1},
"encoding":{
"x":{"field":"t","type":"quantitative","title":"TOTAL DE CASOS","scale":{"type":"log","domain":[100,1000000]},"axis":{"format":"d","values":[100,1000,10000,100000,1000000],"grid":true,"titleFontWeight":"bold","titleFontSize":10,"labelPadding":6,"labelOverlap":false,"labelFlush":false}},
"y":{"field":"p","type":"quantitative","title":"NUEVOS CASOS","scale":{"type":"log","domain":[10,10000]},"axis":{"format":",.0f","values":[10,100,1000,10000],"grid":true,"titleFontWeight":"bold","titleFontSize":10,"labelOverlap":false}}}
}
]}
]}
]},
{"spacing":0,"resolve":{"scale":{"color":"independent"},"legend":{"color":"independent"}},"hconcat":[
{"width":8,"height":1,"data":{"values":[]},"mark":"point","encoding":{}},
{"spacing":4,"resolve":{"scale":{"color":"independent"},"legend":{"color":"independent"}},"vconcat":[
{"width":1,"height":22,"data":{"values":[]},"mark":"point","encoding":{}},
{
"title":{"text":"RAZÓN DE CASOS Y FACTOR DE CRECIMIENTO Mendoza","fontSize":18,"fontWeight":"normal","color":"#595959","offset":6},
"width":705,"height":140,
"layer":[
{"layer":[
{"data":{"values":[{}]},"mark":{"type":"rect","fill":"white","stroke":"#7f7f7f"},"encoding":{"x":{"datum":{"year":2020,"month":10,"date":14,"utc":true},"type":"temporal","axis":{"title":null,"format":"%-d/%-m","labelAngle":-90,"labelFontSize":9,"labelOverlap":false,"grid":false}},"x2":{"datum":{"year":2021,"month":4,"date":26,"utc":true}},"y":{"datum":0.49,"type":"quantitative","title":"RAZÓN DE CASOS","axis":{"labelOverlap":false}},"y2":{"datum":0.86}}},
{"data":{"values":[{}]},"mark":{"type":"text","fontSize":11,"color":"#262626"},"encoding":{"x":{"datum":{"year":2021,"month":1,"date":19,"utc":true},"type":"temporal","axis":{"title":null,"format":"%-d/%-m","labelAngle":-90,"labelFontSize":9,"labelOverlap":false,"grid":false}},"y":{"datum":0.675,"type":"quantitative","title":"RAZÓN DE CASOS","axis":{"labelOverlap":false}},"text":{"datum":"PROMEDIO MAYOR QUE 1, CRECEN LOS CASOS, MENOR QUE 1, BAJAN LOS CASOS"}}},
{"data":{"name":"ser"},"mark":{"type":"line","strokeWidth":2,"clip":true},
"encoding":{"x":{"field":"d","type":"temporal","scale":{"type":"utc","nice":false,"domain":[{"year":2020,"month":8,"date":20,"hours":12,"utc":true},{"year":2021,"month":6,"date":16,"hours":16,"utc":true}]},"axis":{"title":null,"format":"%-d/%-m","labelAngle":-90,"labelFontSize":9,"labelOverlap":false,"grid":false,"tickCount":60,"values":[1597968000000,1598572800000,1599177600000,1599782400000,1600387200000,1600992000000,1601596800000,1602201600000,1602806400000,1603411200000,1604016000000,1604620800000,1605225600000,1605830400000,1606435200000,1607040000000,1607644800000,1608249600000,1608854400000,1609459200000,1610064000000,1610668800000,1611273600000,1611878400000,1612483200000,1613088000000,1613692800000,1614297600000,1614902400000,1615507200000,1616112000000,1616716800000,1617321600000,1617926400000,1618531200000,1619136000000,1619740800000,1620345600000,1620950400000,1621555200000,1622160000000,1622764800000,1623369600000]}},
"y":{"field":"r","type":"quantitative","title":"RAZÓN DE CASOS","scale":{"domain":[0.4,2.4]},"axis":{"values":[0.4,0.6,0.8,1.0,1.2,1.4,1.6,1.8,2.0,2.2,2.4],"tickCount":40,"grid":true,"labelOverlap":false}},
"color":{"datum":"RAZÓN DE CASOS","type":"nominal","scale":{"domain":["RAZÓN DE CASOS","RIESGO","FACTOR DE CRECIMIENTO (promedio últimos 7 días)"],"range":["#c00000","#ffc000","#002060"]},"legend":{"title":null,"orient":"none","legendX":224,"legendY":-26,"fillColor":"#f2f2f2","strokeColor":"#bfbfbf","padding":5,"labelFontSize":8,"labelColor":"#404040","labelLimit":400,"symbolType":"stroke","symbolStrokeWidth":3,"symbolSize":350,"rowPadding":4}}}},
{"data":{"values":[{}]},"mark":{"type":"rule","strokeWidth":2.5},"encoding":{"x":{"datum":{"year":2020,"month":8,"date":20,"hours":12,"utc":true},"type":"temporal","axis":{"title":null,"format":"%-d/%-m","labelAngle":-90,"labelFontSize":9,"labelOverlap":false,"grid":false}},"x2":{"datum":{"year":2021,"month":6,"date":16,"hours":16,"utc":true}},"y":{"datum":1.2,"type":"quantitative","title":"RAZÓN DE CASOS","axis":{"labelOverlap":false}},"color":{"datum":"RIESGO","type":"nominal"}}},
{"data":{"values":[{}]},"mark":{"type":"rect","fill":"#f2f2f2","stroke":"#bfbfbf"},"encoding":{"x":{"datum":{"year":2021,"month":3,"date":2,"utc":true},"type":"temporal","axis":{"title":null,"format":"%-d/%-m","labelAngle":-90,"labelFontSize":9,"labelOverlap":false,"grid":false}},"x2":{"datum":{"year":2021,"month":3,"date":20,"utc":true}},"y":{"datum":2.36,"type":"quantitative","title":"RAZÓN DE CASOS","axis":{"labelOverlap":false}},"y2":{"datum":2.72}}},
{"data":{"values":[{}]},"mark":{"type":"text","fontSize":11,"color":"#262626"},"encoding":{"x":{"datum":{"year":2021,"month":3,"date":11,"utc":true},"type":"temporal","axis":{"title":null,"format":"%-d/%-m","labelAngle":-90,"labelFontSize":9,"labelOverlap":false,"grid":false}},"y":{"datum":2.54,"type":"quantitative","title":"RAZÓN DE CASOS","axis":{"labelOverlap":false}},"text":{"datum":"0,82"}}}
]},
{"data":{"name":"ser"},"mark":{"type":"line","strokeWidth":2},
"encoding":{"x":{"field":"d","type":"temporal","axis":{"title":null,"format":"%-d/%-m","labelAngle":-90,"labelFontSize":9,"labelOverlap":false,"grid":false}},"y":{"field":"f","type":"quantitative","title":"FC","scale":{"domain":[0.8,1.2]},"axis":{"orient":"right","values":[0.8,0.85,0.9,0.95,1.0,1.05,1.1,1.15,1.2],"tickCount":40,"format":".2f","grid":false,"labelOverlap":false}},"color":{"datum":"FACTOR DE CRECIMIENTO (promedio últimos 7 días)","type":"nominal"}}}
],
"resolve":{"scale":{"y":"independent"}}
}
]}
]},
{"spacing":0,"hconcat":[
{"width":1,"height":1,"data":{"values":[]},"mark":"point","encoding":{}},
{"spacing":4,"vconcat":[
{"width":1,"height":16,"data":{"values":[]},"mark":"point","encoding":{}},
{
"title":{"text":"PROMEDIO CASOS CONFIRMADOS SEMANALES Mendoza","fontSize":18,"fontWeight":"bold","color":"#262626","offset":6},
"width":668,"height":376,
"view":{"fill":{"gradient":"linear","x1":1,"y1":0,"x2":0,"y2":1,"stops":[{"offset":0,"color":"#f4f4f4"},{"offset":1,"color":"#d4d4d4"}]}},
"data":{"name":"sem"},
"encoding":{"y":{"field":"w","type":"nominal","sort":null,"title":"DIAS","scale":{"paddingInner":0.42,"paddingOuter":0.2},"axis":{"labelFontSize":10.5,"labelColor":"#404040","titleFontWeight":"bold","titleFontSize":9,"titleColor":"#404040","domain":true,"domainColor":"#404040","domainWidth":2.5,"labelPadding":8,"labelOverlap":false}}},
"layer":[
{"mark":{"type":"bar","color":"#5b9bd5"},"encoding":{"x":{"field":"v","type":"quantitative","title":"CASOS CONFIRMADOS","scale":{"domain":[0,1200]},"axis":{"values":[0,200,400,600,800,1000,1200],"tickCount":40,"labelExpr":"datum.value == 0 ? '-' : format(datum.value, ',')","grid":true,"gridColor":"#a6a6a6","titleFontWeight":"bold","titleColor":"#404040","titlePadding":10}}}},
{"mark":{"type":"bar","color":"#e9e9e9"},"encoding":{"x":{"datum":7,"type":"quantitative","title":"CASOS CONFIRMADOS"},"x2":{"datum":48}}},
{"mark":{"type":"rule","color":"#595959"},"encoding":{"x":{"field":"lo","type":"quantitative","title":"CASOS CONFIRMADOS"},"x2":{"field":"hi"}}},
{"mark":{"type":"tick","color":"#595959","thickness":1,"size":7},"encoding":{"x":{"field":"lo","type":"quantitative","title":"CASOS CONFIRMADOS"}}},
{"mark":{"type":"tick","color":"#595959","thickness":1,"size":7},"encoding":{"x":{"field":"hi","type":"quantitative","title":"CASOS CONFIRMADOS"}}},
{"mark":{"type":"text","align":"left","fontWeight":"bold","fontSize":11.5,"color":"#000000"},"encoding":{"x":{"datum":9,"type":"quantitative","title":"CASOS CONFIRMADOS"},"text":{"field":"v","type":"quantitative"}}}
]
}
]}
]}
]
}
